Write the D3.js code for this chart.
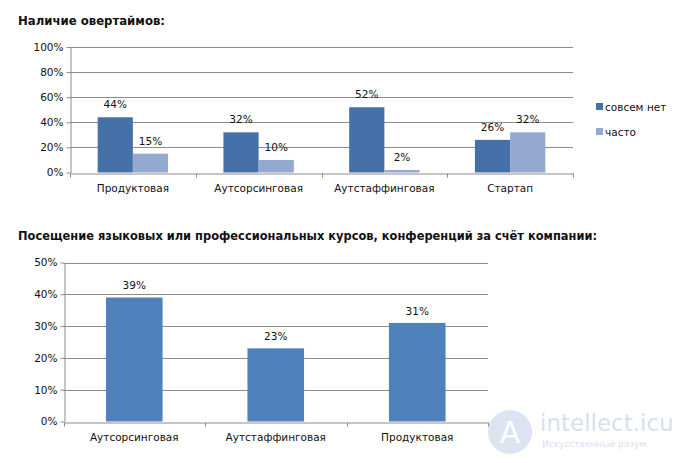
<!DOCTYPE html>
<html><head><meta charset="utf-8">
<script src="https://cdn.jsdelivr.net/npm/d3@7"></script>
<style>
html,body{margin:0;padding:0;background:#fff;}
svg{display:block;}
text{font-family:"DejaVu Sans",Verdana,sans-serif;}
</style></head>
<body>
<svg id="c" width="678" height="463"></svg>
<script>
// ---- data ----
const title1 = "Наличие овертаймов:";
const cats1 = ["Продуктовая","Аутсорсинговая","Аутстаффинговая","Стартап"];
const seriesNames1 = ["совсем нет","часто"];
const valsNone = [0.44,0.32,0.52,0.26];
const valsOften = [0.15,0.10,0.02,0.32];
const ticks1 = [0,0.2,0.4,0.6,0.8,1.0];

const title2 = "Посещение языковых или профессиональных курсов, конференций за счёт компании:";
const cats2 = ["Аутсорсинговая","Аутстаффинговая","Продуктовая"];
const vals2 = [0.39,0.23,0.31];
const ticks2 = [0,0.1,0.2,0.3,0.4,0.5];

const colors1 = ["#4670A8","#93A9D0"];
const color2 = "#4F81BD";
const gridColor = "#8C8C8C";
const pct = d3.format(".0%");

const svg = d3.select("#c");

// ---- titles ----
svg.append("text").attr("x",18).attr("y",25).attr("font-size",13).attr("font-weight","bold")
  .attr("fill","#111").attr("textLength",147).attr("lengthAdjust","spacingAndGlyphs").text(title1);
svg.append("text").attr("x",18).attr("y",240).attr("font-size",13).attr("font-weight","bold")
  .attr("fill","#111").attr("textLength",579).attr("lengthAdjust","spacingAndGlyphs").text(title2);

function drawFrame(g, x, y, ticks, cats){
  const [x0,x1] = x.range();
  // gridlines
  g.selectAll(".grid").data(ticks.filter(t=>t>0)).join("line")
    .attr("x1",x0).attr("x2",x1).attr("y1",d=>Math.round(y(d))+0.5).attr("y2",d=>Math.round(y(d))+0.5)
    .attr("stroke",gridColor).attr("stroke-width",1);
  // y axis
  const ya = g.append("g").attr("transform",`translate(${Math.round(x0)+0.5},0)`)
    .call(d3.axisLeft(y).tickValues(ticks).tickFormat(pct).tickSize(4).tickSizeOuter(0));
  ya.select(".domain").attr("stroke",gridColor);
  ya.selectAll(".tick line").attr("stroke",gridColor);
  ya.selectAll(".tick text").attr("font-size",10.5).attr("fill","#111").attr("x",-7)
    .attr("font-family","DejaVu Sans, Verdana, sans-serif");
  // x axis
  const base = Math.round(y(0))+0.5;
  const xa = g.append("g").attr("transform",`translate(0,${base})`)
    .call(d3.axisBottom(x).tickSize(0).tickSizeOuter(0));
  xa.select(".domain").attr("stroke",gridColor);
  xa.selectAll(".tick text").attr("font-size",10.5).attr("fill","#111").attr("dy","1.45em")
    .attr("font-family","DejaVu Sans, Verdana, sans-serif");
  // category boundary ticks
  const bounds = cats.map(c=>x(c)).concat([x1]);
  g.selectAll(".ctick").data(bounds).join("line")
    .attr("x1",d=>Math.round(d)+0.5).attr("x2",d=>Math.round(d)+0.5)
    .attr("y1",base).attr("y2",base+4).attr("stroke",gridColor);
}

// ---- chart 1 ----
{
  const g = svg.append("g");
  const x = d3.scaleBand().domain(cats1).range([70,573]);
  const y = d3.scaleLinear().domain([0,1]).range([172.5,47]);
  const bw = x.bandwidth();
  const xs = d3.scaleBand().domain(seriesNames1).range([bw*0.22,bw*0.78]);
  drawFrame(g, x, y, ticks1, cats1);
  const data = cats1.map((c,i)=>({c, v:[valsNone[i],valsOften[i]]}));
  const grp = g.selectAll(".grp").data(data).join("g").attr("transform",d=>`translate(${x(d.c)},0)`);
  grp.selectAll("rect").data(d=>d.v.map((v,j)=>({v,s:seriesNames1[j],j}))).join("rect")
    .attr("x",d=>xs(d.s)).attr("width",xs.bandwidth())
    .attr("y",d=>y(d.v)).attr("height",d=>y(0)-y(d.v))
    .attr("fill",d=>colors1[d.j]);
  grp.selectAll(".lbl").data(d=>d.v.map((v,j)=>({v,s:seriesNames1[j]}))).join("text")
    .attr("x",d=>xs(d.s)+xs.bandwidth()/2).attr("y",d=>y(d.v)-9)
    .attr("text-anchor","middle").attr("font-size",10.5).attr("fill","#111").text(d=>pct(d.v));
  // legend
  const lg = svg.append("g").attr("transform","translate(596,103)");
  seriesNames1.forEach((s,i)=>{
    lg.append("rect").attr("x",0).attr("y",i*25).attr("width",7).attr("height",7).attr("fill",colors1[i]);
    lg.append("text").attr("x",9).attr("y",i*25+8).attr("font-size",10.5).attr("fill","#111").text(s);
  });
}

// ---- chart 2 ----
{
  const g = svg.append("g");
  const x = d3.scaleBand().domain(cats2).range([63.5,488]);
  const y = d3.scaleLinear().domain([0,0.5]).range([421.5,262.5]);
  const bw = x.bandwidth();
  const w = bw*0.4;
  drawFrame(g, x, y, ticks2, cats2);
  g.selectAll(".bar").data(cats2.map((c,i)=>({c,v:vals2[i]}))).join("rect")
    .attr("x",d=>x(d.c)+(bw-w)/2).attr("width",w)
    .attr("y",d=>y(d.v)).attr("height",d=>y(0)-y(d.v)).attr("fill",color2);
  g.selectAll(".lbl").data(cats2.map((c,i)=>({c,v:vals2[i]}))).join("text")
    .attr("x",d=>x(d.c)+bw/2).attr("y",d=>y(d.v)-8)
    .attr("text-anchor","middle").attr("font-size",10.5).attr("fill","#111").text(d=>pct(d.v));
}

// ---- watermark ----
{
  const wm = svg.append("g").attr("opacity",0.35);
  wm.append("circle").attr("cx",510).attr("cy",432).attr("r",22).attr("fill","#9DB3D9");
  wm.append("text").attr("x",510).attr("y",443).attr("text-anchor","middle").attr("font-size",30)
    .attr("fill","#fff").attr("font-family","DejaVu Sans, sans-serif").text("A");
  wm.append("text").attr("x",540).attr("y",431).attr("font-size",23).attr("fill","#8FA6CF")
    .attr("font-family","DejaVu Sans, sans-serif").text("intellect.icu");
  wm.append("text").attr("x",542).attr("y",447).attr("font-size",9).attr("fill","#8FA6CF")
    .attr("font-family","DejaVu Sans, sans-serif").text("Искусственный разум");
}
</script>
</body></html>
